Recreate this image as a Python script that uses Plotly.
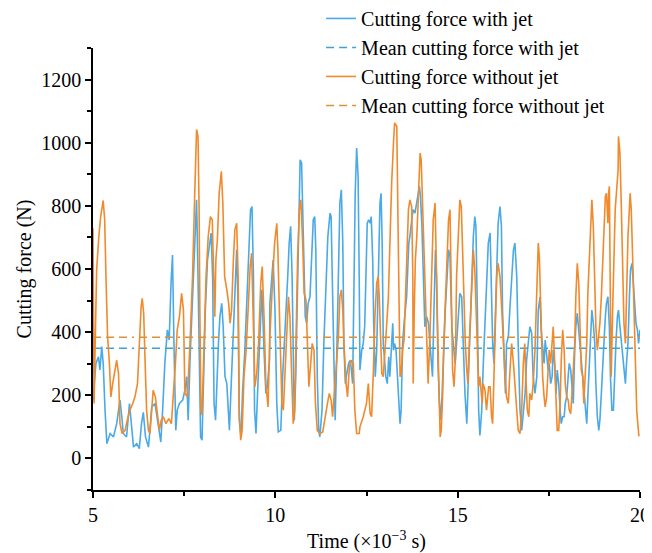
import plotly.graph_objects as go

# Cutting force traces (time in 10^-3 s, force in N)
time_with_jet = [
    5.00, 5.03, 5.08, 5.15, 5.19, 5.24, 5.28, 5.33, 5.38, 5.47, 5.56, 5.65, 5.74, 5.79, 5.83, 5.92,
    6.00, 6.06, 6.11, 6.20, 6.27, 6.33, 6.38, 6.44, 6.52, 6.56, 6.61, 6.70, 6.75, 6.79, 6.86, 6.91,
    6.97, 7.04, 7.09, 7.14, 7.18, 7.22, 7.27, 7.31, 7.37, 7.46, 7.52, 7.57, 7.61, 7.66, 7.73, 7.80,
    7.84, 7.88, 7.92, 7.95, 7.99, 8.03, 8.08, 8.14, 8.19, 8.24, 8.28, 8.32, 8.36, 8.39, 8.44, 8.48,
    8.53, 8.57, 8.62, 8.67, 8.71, 8.74, 8.78, 8.83, 8.89, 8.94, 8.98, 9.01, 9.06, 9.10, 9.16, 9.21,
    9.27, 9.32, 9.36, 9.40, 9.43, 9.47, 9.52, 9.58, 9.63, 9.69, 9.74, 9.78, 9.84, 9.85, 9.90, 9.94,
    9.99, 10.04, 10.08, 10.15, 10.20, 10.25, 10.29, 10.34, 10.38, 10.42, 10.46, 10.49, 10.52, 10.56,
    10.60, 10.64, 10.68, 10.72, 10.75, 10.79, 10.82, 10.86, 10.90, 10.95, 10.99, 11.04, 11.08, 11.11,
    11.15, 11.19, 11.22, 11.28, 11.33, 11.39, 11.44, 11.50, 11.53, 11.57, 11.61, 11.64, 11.68, 11.73,
    11.77, 11.81, 11.85, 11.88, 11.92, 11.96, 12.01, 12.06, 12.12, 12.16, 12.19, 12.23, 12.27, 12.30,
    12.32, 12.37, 12.41, 12.45, 12.49, 12.52, 12.56, 12.60, 12.63, 12.67, 12.70, 12.74, 12.78, 12.82,
    12.87, 12.90, 12.93, 12.96, 13.00, 13.03, 13.07, 13.11, 13.14, 13.18, 13.22, 13.24, 13.27, 13.31,
    13.34, 13.38, 13.42, 13.45, 13.49, 13.53, 13.56, 13.60, 13.66, 13.69, 13.74, 13.78, 13.83, 13.88,
    13.92, 13.95, 13.98, 14.02, 14.06, 14.10, 14.15, 14.20, 14.24, 14.28, 14.31, 14.35, 14.39, 14.42,
    14.46, 14.50, 14.53, 14.57, 14.61, 14.66, 14.72, 14.75, 14.79, 14.84, 14.88, 14.93, 14.97, 15.02,
    15.06, 15.11, 15.15, 15.20, 15.25, 15.29, 15.34, 15.38, 15.43, 15.47, 15.50, 15.54, 15.575, 15.61,
    15.66, 15.70, 15.75, 15.79, 15.84, 15.89, 15.92, 15.96, 15.995, 16.03, 16.07, 16.11, 16.16, 16.20,
    16.23, 16.27, 16.31, 16.34, 16.39, 16.43, 16.48, 16.53, 16.57, 16.62, 16.66, 16.71, 16.755, 16.80,
    16.85, 16.89, 16.94, 16.98, 17.03, 17.07, 17.12, 17.17, 17.21, 17.26, 17.29, 17.33, 17.37, 17.40,
    17.44, 17.48, 17.51, 17.55, 17.59, 17.62, 17.66, 17.70, 17.73, 17.77, 17.81, 17.84, 17.88, 17.92,
    17.95, 17.99, 18.03, 18.06, 18.10, 18.13, 18.17, 18.21, 18.24, 18.28, 18.32, 18.35, 18.39, 18.43,
    18.46, 18.50, 18.54, 18.57, 18.61, 18.65, 18.68, 18.72, 18.76, 18.79, 18.83, 18.87, 18.90, 18.94,
    18.98, 19.01, 19.05, 19.08, 19.12, 19.16, 19.19, 19.23, 19.27, 19.30, 19.34, 19.38, 19.41, 19.45,
    19.49, 19.52, 19.56, 19.60, 19.63, 19.67, 19.71, 19.74, 19.78, 19.82, 19.85, 19.89, 19.93, 19.96,
    20.00,
]
force_with_jet = [
    184, 237, 301, 322, 280, 354, 301, 153, 47, 79, 68, 110, 185, 132, 79, 68,
    174, 100, 36, 47, 31, 110, 146, 68, 36, 89, 163, 174, 132, 100, 52, 153,
    301, 407, 375, 556, 644, 364, 89, 153, 174, 185, 216, 259, 121, 311, 523, 735,
    819, 576, 259, 68, 58, 259, 470, 629, 682, 714, 576, 174, 121, 227, 364, 449,
    491, 417, 259, 237, 153, 89, 206, 343, 470, 661, 470, 121, 68, 206, 333, 470,
    661, 788, 798, 576, 153, 79, 227, 407, 534, 343, 206, 227, 311, 491, 555, 629,
    470, 174, 84, 89, 259, 364, 470, 576, 682, 735, 576, 259, 121, 259,
    523, 809, 946, 936, 788, 576, 449, 428, 491, 512, 629, 756, 766, 661,
    259, 89, 68, 153, 364, 576, 703, 777, 766, 523, 206, 121, 301, 576,
    809, 851, 682, 364, 237, 269, 301, 311, 237, 576, 840, 983, 893, 576,
    280, 343, 364, 417, 629, 745, 756, 745, 766, 629, 417, 259, 343, 576,
    809, 840, 682, 364, 301, 259, 237, 322, 259, 364, 428, 343, 364, 343,
    280, 206, 110, 153, 364, 428, 470, 512, 682, 703, 756, 788, 777, 809,
    830, 862, 830, 735, 576, 417, 449, 428, 364, 290, 259, 470, 661, 576,
    301, 174, 121, 195, 333, 470, 597, 661, 639, 417, 364, 301, 364, 470,
    523, 512, 364, 206, 110, 237, 417, 576, 703, 766, 735, 470, 153, 73,
    153, 290, 449, 576, 682, 714, 576, 364, 301, 449, 661, 745, 798, 735,
    470, 311, 206, 364, 386, 470, 576, 661, 682, 576, 364, 153, 89, 153,
    206, 311, 385, 417, 396, 259, 206, 259, 470, 512, 407, 343, 301, 375,
    322, 280, 301, 237, 259, 343, 301, 206, 280, 237, 153, 110, 132, 132,
    174, 195, 259, 301, 280, 216, 174, 343, 417, 460, 417, 364, 311, 259,
    195, 153, 110, 195, 311, 417, 470, 428, 364, 237, 132, 89, 121, 206,
    280, 364, 449, 491, 512, 417, 259, 153, 153, 259, 364, 449, 470, 417,
    364, 333, 280, 237, 301, 364, 512, 597, 618, 534, 470, 428, 407, 364,
    407,
]

time_without_jet = [
    5.00, 5.03, 5.06, 5.10, 5.16, 5.21, 5.28, 5.32, 5.36, 5.40, 5.45, 5.49, 5.54, 5.59, 5.65, 5.70,
    5.74, 5.80, 5.88, 5.94, 6.01, 6.09, 6.15, 6.22, 6.27, 6.32, 6.35, 6.39, 6.43, 6.47, 6.52, 6.56,
    6.61, 6.65, 6.71, 6.76, 6.82, 6.87, 6.93, 7.00, 7.08, 7.15, 7.20, 7.26, 7.31, 7.37, 7.43, 7.48,
    7.52, 7.59, 7.66, 7.73, 7.79, 7.84, 7.88, 7.91, 7.93, 7.96, 7.99, 8.04, 8.10, 8.16, 8.22, 8.27,
    8.30, 8.34, 8.37, 8.41, 8.46, 8.52, 8.56, 8.61, 8.67, 8.72, 8.76, 8.80, 8.85, 8.89, 8.94, 8.98,
    9.01, 9.05, 9.09, 9.14, 9.20, 9.26, 9.31, 9.35, 9.40, 9.44, 9.49, 9.54, 9.60, 9.64, 9.69, 9.74,
    9.80, 9.85, 9.93, 9.98, 10.04, 10.07, 10.11, 10.15, 10.18, 10.22, 10.26, 10.31, 10.36, 10.40,
    10.45, 10.49, 10.53, 10.57, 10.61, 10.66, 10.70, 10.75, 10.79, 10.84, 10.88, 10.92, 10.97, 11.01,
    11.06, 11.10, 11.15, 11.22, 11.30, 11.36, 11.43, 11.48, 11.53, 11.57, 11.63, 11.68, 11.73, 11.77,
    11.81, 11.85, 11.88, 11.94, 11.98, 12.03, 12.08, 12.14, 12.18, 12.23, 12.30, 12.32, 12.41, 12.50,
    12.55, 12.60, 12.64, 12.69, 12.73, 12.78, 12.82, 12.85, 12.89, 12.92, 12.96, 13.01, 13.05, 13.10,
    13.14, 13.19, 13.24, 13.27, 13.33, 13.35, 13.38, 13.42, 13.45, 13.49, 13.53, 13.56, 13.60, 13.65,
    13.69, 13.74, 13.77, 13.78, 13.81, 13.84, 13.88, 13.92, 13.97, 14.00, 14.04, 14.08, 14.11, 14.15,
    14.19, 14.24, 14.29, 14.33, 14.38, 14.41, 14.44, 14.48, 14.52, 14.55, 14.59, 14.62, 14.66, 14.70,
    14.75, 14.79, 14.84, 14.86, 14.90, 14.94, 14.97, 15.02, 15.06, 15.10, 15.14, 15.17, 15.21, 15.25,
    15.28, 15.32, 15.36, 15.39, 15.43, 15.47, 15.50, 15.54, 15.575, 15.61, 15.67, 15.70, 15.75, 15.79,
    15.85, 15.89, 15.93, 15.96, 15.99, 16.03, 16.07, 16.11, 16.16, 16.21, 16.25, 16.30, 16.34, 16.39,
    16.43, 16.48, 16.53, 16.57, 16.62, 16.66, 16.71, 16.755, 16.80, 16.84, 16.87, 16.91, 16.95, 16.98,
    17.03, 17.07, 17.12, 17.17, 17.21, 17.24, 17.26, 17.29, 17.33, 17.37, 17.40, 17.44, 17.48, 17.51,
    17.55, 17.59, 17.62, 17.66, 17.70, 17.73, 17.77, 17.81, 17.84, 17.88, 17.92, 17.95, 17.99, 18.03,
    18.06, 18.10, 18.13, 18.17, 18.21, 18.24, 18.28, 18.32, 18.35, 18.39, 18.43, 18.46, 18.50, 18.54,
    18.57, 18.61, 18.65, 18.68, 18.72, 18.76, 18.79, 18.83, 18.87, 18.90, 18.94, 18.98, 19.01, 19.05,
    19.08, 19.12, 19.14, 19.16, 19.19, 19.21, 19.25, 19.29, 19.32, 19.36, 19.40, 19.41, 19.45, 19.49,
    19.52, 19.56, 19.60, 19.63, 19.67, 19.73, 19.76, 19.80, 19.83, 19.87, 19.91, 19.94, 19.97,
]
force_without_jet = [
    729, 174, 364, 597, 703, 766, 817, 756, 555, 386, 301, 195, 237, 269, 311, 269,
    110, 79, 89, 121, 153, 174, 195, 237, 364, 481, 507, 460, 301, 153, 89, 79,
    153, 216, 195, 142, 89, 121, 132, 110, 126, 110, 184, 301, 407, 449, 523, 470,
    206, 195, 364, 576, 840, 1042, 1020, 788, 470, 153, 137, 364, 576, 703, 766, 756,
    629, 449, 629, 692, 840, 909, 809, 576, 534, 491, 428, 470, 629, 724, 745, 576,
    153, 58, 89, 259, 343, 502, 608, 650, 417, 227, 269, 364, 555, 608, 449, 237,
    163, 386, 576, 682, 745, 661, 470, 301, 174, 153, 237, 386, 512, 449,
    259, 110, 153, 417, 629, 788, 819, 682, 523, 502, 343, 227, 301, 364,
    343, 174, 89, 79, 84, 132, 174, 206, 185, 132, 227, 301, 386, 512,
    534, 470, 364, 237, 195, 290, 311, 301, 153, 79, 79, 100, 132, 174,
    237, 142, 132, 280, 449, 555, 576, 512, 343, 269, 259, 333, 417, 512,
    682, 872, 999, 1063, 1052, 893, 523, 259, 269, 343, 375, 470, 629, 788,
    819, 798, 576, 237, 470, 629, 703, 840, 967, 946, 809, 661, 544, 407,
    237, 386, 576, 756, 809, 682, 470, 259, 68, 89, 206, 364, 470, 576,
    756, 788, 470, 280, 227, 322, 576, 735, 819, 798, 629, 470, 364, 280,
    237, 364, 470, 576, 661, 597, 470, 301, 227, 259, 174, 237, 216, 153,
    227, 227, 132, 110, 259, 417, 576, 618, 576, 470, 364, 259, 195, 174,
    269, 364, 301, 237, 153, 89, 79, 153, 301, 364, 259, 153, 132, 206,
    185, 237, 343, 512, 682, 639, 555, 364, 259, 195, 163, 195, 301, 343,
    301, 386, 417, 301, 153, 89, 89, 174, 311, 407, 343, 237, 195, 185,
    153, 142, 195, 280, 364, 512, 618, 555, 417, 280, 259, 174, 269, 364,
    523, 629, 788, 819, 735, 576, 417, 343, 386, 428, 512, 618, 724, 830,
    840, 745, 840, 862, 470, 259, 470, 650, 788, 851, 915, 1020, 967, 788,
    597, 428, 364, 534, 703, 840, 788, 629, 470, 259, 153, 110, 70,
]

mean_with_jet = 349
mean_without_jet = 384
time_span = [5, 20]

blue = '#4AAAE8'
orange = '#F08A2C'
font_family = 'Liberation Serif, Times New Roman, serif'
mean_dash = '8px,5px,8px,5px,8px,5px,2px,5px'

fig = go.Figure()

fig.add_trace(go.Scatter(
    x=time_with_jet, y=force_with_jet, mode='lines',
    name='Cutting force with jet', line=dict(color=blue, width=1.6),
))
fig.add_trace(go.Scatter(
    x=time_span, y=[mean_with_jet, mean_with_jet], mode='lines',
    name='Mean cutting force with jet', line=dict(color='#3FA3CF', width=1.4, dash=mean_dash),
))
fig.add_trace(go.Scatter(
    x=time_without_jet, y=force_without_jet, mode='lines',
    name='Cutting force without jet', line=dict(color=orange, width=1.6),
))
fig.add_trace(go.Scatter(
    x=time_span, y=[mean_without_jet, mean_without_jet], mode='lines',
    name='Mean cutting force without jet', line=dict(color='#D9923A', width=1.4, dash=mean_dash),
))

axis_style = dict(
    showline=True, linecolor='black', linewidth=1.5,
    ticks='outside', ticklen=6, tickwidth=1.5, tickcolor='black',
    showgrid=False, zeroline=False, mirror=False,
    tickfont=dict(family=font_family, size=20, color='black'),
)

fig.update_xaxes(
    range=[5, 20], tickvals=[5, 10, 15, 20],
    minor=dict(tickvals=[7.5, 12.5, 17.5], ticks='outside', ticklen=4, tickwidth=1.5, tickcolor='black'),
    title=dict(text='Time (×10<sup>−3</sup> s)', font=dict(family=font_family, size=20, color='black'), standoff=12),
    **axis_style,
)
fig.update_yaxes(
    range=[-100, 1300], tickvals=[0, 200, 400, 600, 800, 1000, 1200],
    minor=dict(dtick=100, ticks='outside', ticklen=4, tickwidth=1.5, tickcolor='black'),
    title=dict(text='Cutting force (N)', font=dict(family=font_family, size=20, color='black'), standoff=4),
    **axis_style,
)

# the page body adds an 8px margin, so the figure is a little smaller than the window
fig.update_layout(
    width=644, height=545,
    margin=dict(l=85, r=12, t=40, b=63, autoexpand=False),
    plot_bgcolor='white', paper_bgcolor='white',
    font=dict(family=font_family, size=20, color='black'),
    legend=dict(
        x=0.417, y=1.111, xanchor='left', yanchor='top',
        bgcolor='rgba(0,0,0,0)', borderwidth=0,
        font=dict(family=font_family, size=20, color='black'),
        tracegroupgap=0,
    ),
    showlegend=True,
)

fig.write_html('out.html')
